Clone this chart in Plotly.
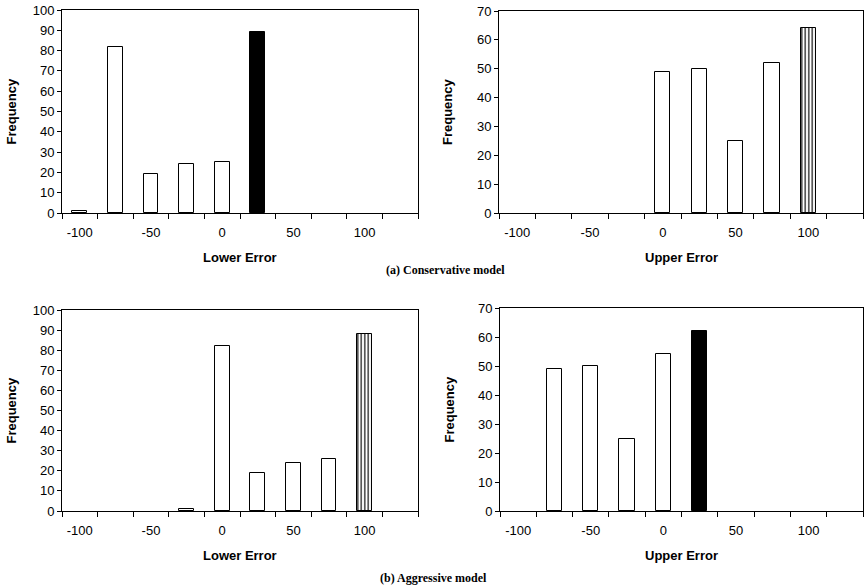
import plotly.graph_objects as go

# ---- data ----
categories = [-100, -75, -50, -25, 0, 25, 50, 75, 100, 125]
tick_labels = ["-100", "-50", "0", "50", "100"]
tick_positions = [-100, -50, 0, 50, 100]

cons_lower = [1, 82, 19, 24, 25, 89, 0, 0, 0, 0]
cons_upper = [0, 0, 0, 0, 49, 50, 25, 52, 64, 0]
aggr_lower = [0, 0, 0, 1, 82, 19, 24, 26, 88, 0]
aggr_upper = [0, 49, 50, 25, 54, 62, 0, 0, 0, 0]

# bar style per category: "w" white, "k" black, "s" striped
cons_lower_style = ["w", "w", "w", "w", "w", "k", "w", "w", "w", "w"]
cons_upper_style = ["w", "w", "w", "w", "w", "w", "w", "w", "s", "w"]
aggr_lower_style = ["w", "w", "w", "w", "w", "w", "w", "w", "s", "w"]
aggr_upper_style = ["w", "w", "w", "w", "w", "k", "w", "w", "w", "w"]

panels = [
    dict(y=cons_lower, style=cons_lower_style, ymax=100, xt="Lower Error",
         dom_x=(62, 418), dom_y=(10, 213)),
    dict(y=cons_upper, style=cons_upper_style, ymax=70, xt="Upper Error",
         dom_x=(499, 863), dom_y=(11, 213)),
    dict(y=aggr_lower, style=aggr_lower_style, ymax=100, xt="Lower Error",
         dom_x=(62, 418), dom_y=(310, 511)),
    dict(y=aggr_upper, style=aggr_upper_style, ymax=70, xt="Upper Error",
         dom_x=(500, 863), dom_y=(308, 511)),
]

W, H = 864, 586
fig = go.Figure()
annotations = []
boundaries = [c - 12.5 for c in categories] + [categories[-1] + 12.5]

for i, p in enumerate(panels, start=1):
    xa = "x" if i == 1 else f"x{i}"
    ya = "y" if i == 1 else f"y{i}"
    colors = ["black" if s == "k" else "white" for s in p["style"]]
    shapes = ["|" if s == "s" else "" for s in p["style"]]
    lw = [1 if v > 0 else 0 for v in p["y"]]
    fig.add_trace(go.Bar(
        x=categories, y=p["y"], xaxis=xa, yaxis=ya, width=10.5,
        marker=dict(color=colors, line=dict(color="black", width=lw),
                    pattern=dict(shape=shapes, fgcolor="black",
                                 fgopacity=1, size=3.5, solidity=0.45, fillmode="overlay")),
        showlegend=False, hoverinfo="x+y"))
    x0, x1 = p["dom_x"]
    yt, yb = p["dom_y"]
    xkey = "xaxis" if i == 1 else f"xaxis{i}"
    ykey = "yaxis" if i == 1 else f"yaxis{i}"
    fig.update_layout(**{
        xkey: dict(domain=[x0 / W, x1 / W], anchor=ya, range=[-112.5, 137.5],
                   tickvals=tick_positions, ticktext=tick_labels, ticks="",
                   ticklabelstandoff=7,
                   showgrid=False, zeroline=False, showline=True, mirror=True,
                   linecolor="black", linewidth=1, automargin=False,
                   tickfont=dict(family="Arial, Liberation Sans", size=13, color="black"),
                   minor=dict(tickvals=boundaries, ticks="outside", ticklen=5,
                              tickcolor="black", tickwidth=1, showgrid=False)),
        ykey: dict(domain=[1 - yb / H, 1 - yt / H], anchor=xa, range=[0, p["ymax"]],
                   dtick=10, ticks="outside", ticklen=4, tickcolor="black",
                   showgrid=False, zeroline=False, showline=True, mirror=True,
                   linecolor="black", linewidth=1, automargin=False,
                   tickfont=dict(family="Arial, Liberation Sans", size=13, color="black")),
    })
    # axis titles
    annotations.append(dict(text="<b>" + p["xt"] + "</b>", xref="paper", yref="paper",
                            x=(x0 + x1) / 2 / W, y=1 - (yb + 44) / H,
                            showarrow=False, xanchor="center", yanchor="middle",
                            font=dict(family="Arial, Liberation Sans", size=13, color="black")))
    annotations.append(dict(text="<b>Frequency</b>", xref="paper", yref="paper",
                            x=(x0 - 51) / W, y=1 - (yt + yb) / 2 / H, textangle=-90,
                            showarrow=False, xanchor="center", yanchor="middle",
                            font=dict(family="Arial, Liberation Sans", size=13, color="black")))

annotations.append(dict(text="<b>(a) Conservative model</b>", xref="paper", yref="paper",
                        x=445 / W, y=1 - 270 / H, showarrow=False,
                        xanchor="center", yanchor="middle",
                        font=dict(family="Times New Roman, Liberation Serif", size=12, color="black")))
annotations.append(dict(text="<b>(b) Aggressive model</b>", xref="paper", yref="paper",
                        x=434 / W, y=1 - 578 / H, showarrow=False,
                        xanchor="center", yanchor="middle",
                        font=dict(family="Times New Roman, Liberation Serif", size=12, color="black")))

fig.update_layout(width=W, height=H, margin=dict(l=0, r=0, t=0, b=0),
                  template="none", paper_bgcolor="white", plot_bgcolor="white",
                  annotations=annotations, bargap=0)

fig.write_html("out.html")
